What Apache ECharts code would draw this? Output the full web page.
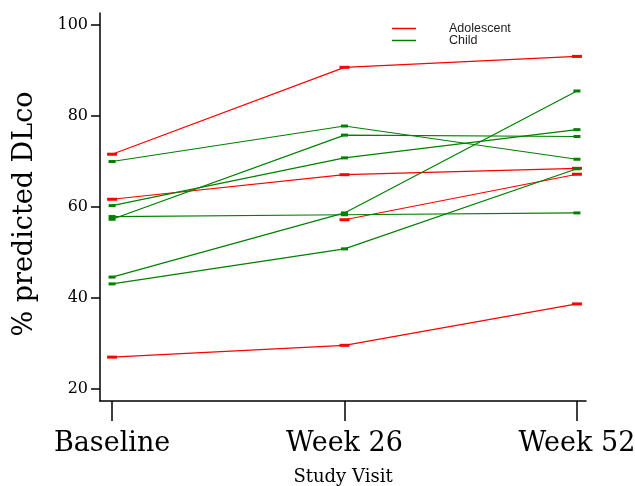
<!DOCTYPE html>
<html>
<head>
<meta charset="utf-8">
<script src="https://cdn.jsdelivr.net/npm/echarts@6/dist/echarts.min.js"></script>
<style>html,body{margin:0;padding:0;background:#fff;}#c{width:635px;height:486px;}</style>
</head>
<body>
<div id="c"></div>
<script>
// Study visits (x categories)
var visitLabels = ['Baseline', 'Week 26', 'Week 52'];
var yTicks = [20, 40, 60, 80, 100];

// Adolescent subjects (% predicted DLco at Baseline, Week 26, Week 52)
var adol1 = [71.6, 90.7, 93.1];
var adol2 = [61.7, 67.1, 68.5];
var adol3 = [null, 57.2, 67.2];
var adol4 = [27.0, 29.6, 38.7];

// Child subjects
var child1 = [70.0, 77.8, 70.5];
var child2 = [60.3, 70.8, 77.0];
var child3 = [57.9, 58.3, 58.7];
var child4 = [57.3, 75.8, 75.5];
var child5 = [44.6, 58.7, 85.5];
var child6 = [43.1, 50.8, 68.4];

var adolescents = [adol1, adol2, adol3, adol4];
var children = [child1, child2, child3, child4, child5, child6];

var RED = '#ff0000', GREEN = '#008000';
var FONT = 'DejaVu Serif';

function toPairs(arr) {
  var out = [];
  for (var i = 0; i < arr.length; i++) {
    if (arr[i] !== null && arr[i] !== undefined) out.push([i, arr[i]]);
  }
  return out;
}

var series = [];
adolescents.forEach(function (s) {
  series.push({
    name: 'Adolescent', type: 'line', data: toPairs(s),
    lineStyle: { color: RED, width: 1.2 }, itemStyle: { color: RED },
    symbol: 'rect', symbolSize: [10, 3], showSymbol: true, animation: false
  });
});
children.forEach(function (s) {
  series.push({
    name: 'Child', type: 'line', data: toPairs(s),
    lineStyle: { color: GREEN, width: 1.2 }, itemStyle: { color: GREEN },
    symbol: 'rect', symbolSize: [7, 3], showSymbol: true, animation: false
  });
});

var legendText = { fontFamily: 'Liberation Sans', fontSize: 12.5, color: '#222', padding: [0, 0, 0, 28] };

var chart = echarts.init(document.getElementById('c'), null, { renderer: 'canvas' });
chart.setOption({
  animation: false,
  backgroundColor: '#fff',
  grid: { left: 100, right: 49, top: 13, bottom: 85, containLabel: false, outerBoundsMode: 'none' },
  legend: [
    {
      data: ['Adolescent'], left: 392, top: 22, padding: 0, itemWidth: 24, itemHeight: 1.5,
      icon: 'rect', selectedMode: false, textStyle: legendText
    },
    {
      data: ['Child'], left: 392, top: 34, padding: 0, itemWidth: 24, itemHeight: 1.5,
      icon: 'rect', selectedMode: false, textStyle: legendText
    }
  ],
  xAxis: {
    type: 'value', min: -0.052, max: 2.039,
    name: 'Study Visit', nameLocation: 'middle', nameGap: 67,
    nameTextStyle: { fontFamily: FONT, fontSize: 18, color: '#000' },
    axisLine: { show: true, onZero: false, lineStyle: { color: '#000', width: 1.5 } },
    axisTick: { show: true, length: 20, customValues: [0, 1, 2], lineStyle: { color: '#000', width: 1.5 } },
    axisLabel: {
      customValues: [0, 1, 2], margin: 29,
      fontFamily: FONT, fontSize: 27, color: '#000',
      formatter: function (v) { return visitLabels[Math.round(v)]; }
    },
    splitLine: { show: false }
  },
  yAxis: {
    type: 'value', min: 17.36, max: 102.64,
    name: '% predicted DLco', nameLocation: 'middle', nameGap: 62, nameRotate: 90,
    nameTextStyle: { fontFamily: FONT, fontSize: 27, color: '#000', padding: [0, 14, 0, 0] },
    axisLine: { show: true, onZero: false, lineStyle: { color: '#000', width: 1.5 } },
    axisTick: { show: true, length: 9, customValues: yTicks, lineStyle: { color: '#000', width: 1.5 } },
    axisLabel: { customValues: yTicks, margin: 12, fontFamily: FONT, fontSize: 16, color: '#000' },
    splitLine: { show: false }
  },
  series: series
});
</script>
</body>
</html>
